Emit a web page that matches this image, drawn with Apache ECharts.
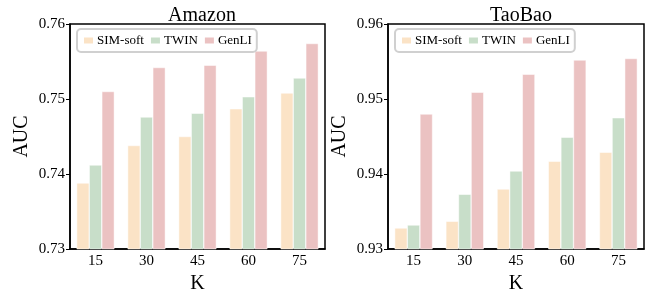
<!DOCTYPE html>
<html>
<head>
<meta charset="utf-8">
<script src="https://cdn.jsdelivr.net/npm/echarts@6/dist/echarts.min.js"></script>
<style>
  html, body { margin: 0; padding: 0; background: #fff; }
  #main { width: 656px; height: 291px; }
</style>
</head>
<body>
<div id="main"></div>
<script>
// values
const kValues = ['15', '30', '45', '60', '75'];
const seriesNames = ['SIM-soft', 'TWIN', 'GenLI'];
const seriesColors = ['#fbe3c6', '#c8dec9', '#ebc2c2'];

const amazonSimSoft = [0.7388, 0.7438, 0.7450, 0.7487, 0.7508];
const amazonTwin    = [0.7412, 0.7476, 0.7481, 0.7503, 0.7528];
const amazonGenLI   = [0.7510, 0.7542, 0.7545, 0.7564, 0.7574];

const taobaoSimSoft = [0.9328, 0.9337, 0.9380, 0.9417, 0.9429];
const taobaoTwin    = [0.9332, 0.9373, 0.9404, 0.9449, 0.9475];
const taobaoGenLI   = [0.9480, 0.9509, 0.9533, 0.9552, 0.9554];

const amazonTicks = [0.73, 0.76];
const taobaoTicks = [0.93, 0.96];

const FONT = 'Liberation Serif';

let chart = echarts.init(document.getElementById('main'));

function makeGrid(left, width) {
    return {
        left: left, top: 24, width: width, height: 225,
        outerBoundsMode: 'none', containLabel: false,
        show: true, borderColor: '#000', borderWidth: 1.5, backgroundColor: 'transparent'
    };
}

function makeX(idx) {
    return {
        type: 'category', gridIndex: idx, data: kValues,
        name: 'K', nameLocation: 'middle', nameGap: 23,
        nameTextStyle: {fontFamily: FONT, fontSize: 20, color: '#000'},
        axisLine: {lineStyle: {color: '#000', width: 1.5}},
        axisTick: {alignWithLabel: true, length: 4, lineStyle: {color: '#000'}},
        axisLabel: {fontFamily: FONT, fontSize: 15, color: '#000', margin: 5}
    };
}

function makeY(idx, ticks) {
    return {
        type: 'value', gridIndex: idx, min: ticks[0], max: ticks[1], interval: 0.01,
        name: 'AUC', nameLocation: 'middle', nameGap: 38,
        nameTextStyle: {fontFamily: FONT, fontSize: 20, color: '#000'},
        axisLine: {show: true, lineStyle: {color: '#000', width: 1.5}},
        axisTick: {show: true, length: 4, lineStyle: {color: '#000'}},
        splitLine: {show: false},
        axisLabel: {
            fontFamily: FONT, fontSize: 15, color: '#000', margin: 5,
            formatter: function (v) { return v.toFixed(2); }
        }
    };
}

function makeBar(name, data, idx, color) {
    return {
        name: name, type: 'bar', xAxisIndex: idx, yAxisIndex: idx, data: data,
        barGap: '0%', barCategoryGap: '26%',
        itemStyle: {color: color, borderColor: '#fff', borderWidth: 0.5},
        emphasis: {disabled: true}
    };
}

function makeLegend(left) {
    return {
        data: seriesNames, left: left, top: 29,
        itemWidth: 11, itemHeight: 8, itemGap: 5,
        icon: 'rect',
        padding: [5, 5, 5, 5],
        borderColor: '#d0d0d0', borderWidth: 2, borderRadius: 4,
        backgroundColor: '#fff',
        textStyle: {fontFamily: FONT, fontSize: 13, color: '#000', padding: [0, 0, 0, -2]}
    };
}

let leftSeries = [amazonSimSoft, amazonTwin, amazonGenLI];
let rightSeries = [taobaoSimSoft, taobaoTwin, taobaoGenLI];

let series = [];
for (let i = 0; i < 3; i++) {
    series.push(makeBar(seriesNames[i], leftSeries[i], 0, seriesColors[i]));
}
for (let i = 0; i < 3; i++) {
    series.push(makeBar(seriesNames[i], rightSeries[i], 1, seriesColors[i]));
}

let option = {
    animation: false,
    title: [
        {text: 'Amazon', left: 197, top: 1, textAlign: 'center',
         textStyle: {fontFamily: FONT, fontSize: 20, fontWeight: 'normal', color: '#000'}},
        {text: 'TaoBao', left: 516, top: 1, textAlign: 'center',
         textStyle: {fontFamily: FONT, fontSize: 20, fontWeight: 'normal', color: '#000'}}
    ],
    legend: [makeLegend(77), makeLegend(395)],
    grid: [makeGrid(70, 255), makeGrid(388, 256)],
    xAxis: [makeX(0), makeX(1)],
    yAxis: [makeY(0, amazonTicks), makeY(1, taobaoTicks)],
    series: series
};

chart.setOption(option);
</script>
</body>
</html>
